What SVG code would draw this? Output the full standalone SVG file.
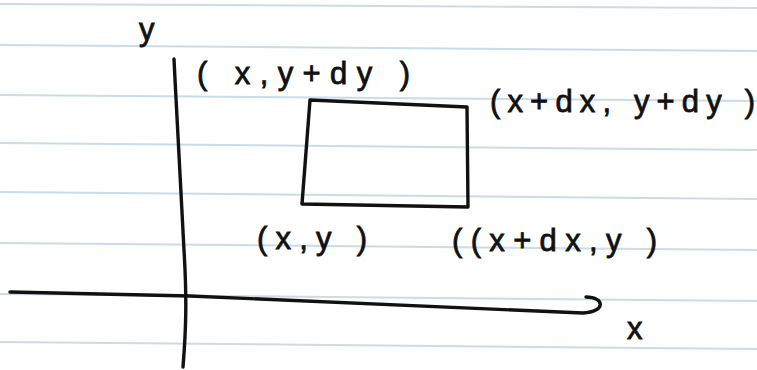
<svg xmlns="http://www.w3.org/2000/svg" width="757" height="370" viewBox="0 0 757 370">
<style>
.rule{stroke:#c9dde8;stroke-width:2;fill:none}
.ink{stroke:#111;stroke-width:3.4;fill:none;stroke-linecap:round;stroke-linejoin:round}
.lbl{font-family:"Liberation Sans","DejaVu Sans",sans-serif;fill:#111;font-size:31px;stroke:#111;stroke-width:0.8}
</style>
<rect width="757" height="370" fill="#ffffff"/>
<g id="paper">
<line class="rule" x1="0" y1="4" x2="757" y2="8"/>
<line class="rule" x1="0" y1="45" x2="757" y2="51"/>
<line class="rule" x1="0" y1="95" x2="757" y2="101"/>
<line class="rule" x1="0" y1="143" x2="757" y2="150"/>
<line class="rule" x1="0" y1="192" x2="757" y2="199"/>
<line class="rule" x1="0" y1="243" x2="757" y2="250"/>
<line class="rule" x1="0" y1="294" x2="757" y2="301"/>
<line class="rule" x1="0" y1="342" x2="757" y2="349"/>
</g>
<g id="connectors">
<path id="y-axis" class="ink" d="M174 59 C177 120 180 180 184 250 C187 300 186 330 183 367"/>
<path id="x-axis" class="ink" d="M10 292 C80 293 150 295 190 296 C300 300 420 306 583 313 C606 312 605 297 586 297"/>
</g>
<g id="rect">
<path class="ink" d="M310 100 L467 107 L468 207 L302 204 Z"/>
</g>
<g id="label-y"><text class="lbl" x="139" y="40" font-size="40">y</text></g>
<g id="label-x"><text class="lbl" x="627" y="339" font-size="33">x</text></g>
<g id="label-tl"><text class="lbl" x="197" y="84" textLength="213" lengthAdjust="spacing">( x,y+dy )</text></g>
<g id="label-tr"><text class="lbl" x="490" y="112" textLength="265" lengthAdjust="spacing">(x+dx, y+dy )</text></g>
<g id="label-bl"><text class="lbl" x="257" y="249" textLength="110" lengthAdjust="spacing">(x,y )</text></g>
<g id="label-br"><text class="lbl" x="452" y="251" textLength="205" lengthAdjust="spacing">((x+dx,y )</text></g>
</svg>
